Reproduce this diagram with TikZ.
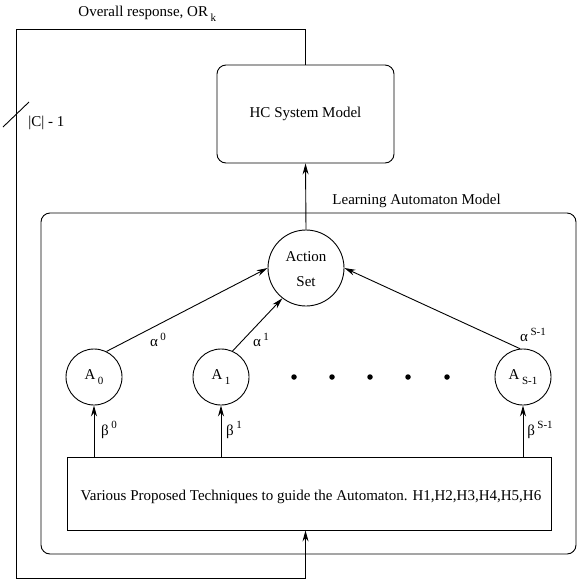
\documentclass[tikz,border=0pt]{standalone}
\usepackage{fontspec}
\setmainfont{Liberation Serif}
\usetikzlibrary{arrows.meta}
\newcommand{\spx}[1]{\raisebox{0.45em}{\fontsize{11}{11}\selectfont #1}}
\newcommand{\sbx}[1]{\raisebox{-0.35em}{\fontsize{11}{11}\selectfont #1}}
\begin{document}
\begin{tikzpicture}[x=1pt,y=-1pt,
  line width=0.9pt,
  every node/.style={font=\fontsize{15}{18}\selectfont},
  arr/.style={-{Stealth[length=11pt,width=6pt]}},
  rbox/.style={draw,rounded corners=9pt,inner sep=0pt},
  sqbox/.style={draw,inner sep=0pt},
  circ/.style={draw,circle,inner sep=0pt,minimum size=56pt},
  lbl/.style={inner sep=0pt},
  dotstyle/.style={fill,circle,inner sep=0pt,minimum size=5.5pt}]
\useasboundingbox (0,0) rectangle (581,579);

% boxes
\node[rbox,minimum width=177pt,minimum height=98pt] (hc) at (305.5,114) {HC System Model};
\node[rbox,minimum width=535pt,minimum height=341pt] (la) at (308.5,383.5) {};
\node[lbl,anchor=west] (lalbl) at (332,201) {Learning Automaton Model};
\node[sqbox,minimum width=484pt,minimum height=73pt] (vb) at (309,493.5) {};
\node[lbl] (vbtxt) at (311,497) {Various Proposed Techniques to guide the Automaton. H1,H2,H3,H4,H5,H6};

% circles
\node[circ,minimum size=76pt,align=center] (as) at (306,268) {};
\node[lbl] (act) at (306,257) {Action};
\node[lbl] (set) at (306,282) {Set};
\node[circ] (a0) at (94,377) {A\,\sbx{0}};
\node[circ] (a1) at (221,377) {A\,\sbx{1}};
\node[circ] (as1) at (523,377) {A\,\sbx{S-1}};

% dots
\foreach \i/\xx in {1/294,2/332,3/370,4/408,5/447}
  \node[dotstyle] (d\i) at (\xx,377) {};

% feedback loop
\coordinate (tl) at (16,29);
\coordinate (bl) at (16,578);
\draw[arr] (hc.north) |- (tl) -- (bl) -| (vb.south -| hc.north);
\coordinate (s1) at (3,127);
\coordinate (s2) at (29,102);
\draw (s1) -- (s2);
\node[lbl,anchor=west] (cl) at (28,123) {|C| - 1};
\node[lbl,anchor=west] (orl) at (78,14) {Overall response, OR\,\sbx{k}};

% action set to HC
\draw[arr] (as.north) -- (hc.south);

% alpha connectors
\draw[arr] (a0.64) -- (as.west);
\draw[arr] (a1.66) -- (as.232);
\draw[arr] (as1.96) -- (as.east);
\node[lbl] (al0) at (158,340) {α\,\spx{0}};
\node[lbl] (al1) at (261,340) {α\,\spx{1}};
\node[lbl] (alS) at (533,335) {α\,\spx{S-1}};

% beta connectors
\draw[arr] (vb.north -| a0.south) -- (a0.south);
\draw[arr] (vb.north -| a1.south) -- (a1.south);
\draw[arr] (vb.north -| as1.south) -- (as1.south);
\node[lbl] (b0) at (109,430) {β\,\spx{0}};
\node[lbl] (b1) at (234,430) {β\,\spx{1}};
\node[lbl] (bS) at (540,430) {β\,\spx{S-1}};
\end{tikzpicture}
\end{document}
